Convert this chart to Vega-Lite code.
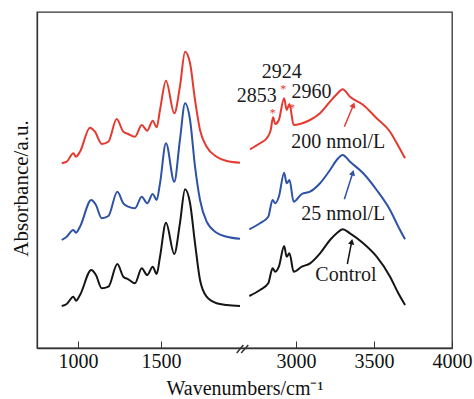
{
  "$schema": "https://vega.github.io/schema/vega-lite/v6.json",
  "width": 415,
  "height": 336,
  "autosize": "none",
  "padding": {"left": 37, "top": 12, "right": 22, "bottom": 51},
  "background": "white",
  "config": {
    "view": {"stroke": "#333", "strokeWidth": 1.3},
    "font": "Liberation Serif",
    "axis": {"labelFont": "Liberation Serif", "titleFont": "Liberation Serif", "labelColor": "#111", "titleColor": "#111", "titleFontWeight": "normal", "domainColor": "#333", "domainWidth": 1.3, "tickColor": "#333", "grid": false}
  },
  "datasets": {
    "spectra": [
      {"s": "200 nmol/L", "seg": "L", "w": 902, "a": 184.7},
      {"s": "200 nmol/L", "seg": "L", "w": 932, "a": 186.3},
      {"s": "200 nmol/L", "seg": "L", "w": 972, "a": 194.7},
      {"s": "200 nmol/L", "seg": "L", "w": 988, "a": 191.3},
      {"s": "200 nmol/L", "seg": "L", "w": 1012, "a": 196.3},
      {"s": "200 nmol/L", "seg": "L", "w": 1072, "a": 220.3},
      {"s": "200 nmol/L", "seg": "L", "w": 1102, "a": 216.3},
      {"s": "200 nmol/L", "seg": "L", "w": 1143, "a": 204},
      {"s": "200 nmol/L", "seg": "L", "w": 1183, "a": 206.3},
      {"s": "200 nmol/L", "seg": "L", "w": 1233, "a": 229},
      {"s": "200 nmol/L", "seg": "L", "w": 1273, "a": 216.3},
      {"s": "200 nmol/L", "seg": "L", "w": 1303, "a": 214},
      {"s": "200 nmol/L", "seg": "L", "w": 1343, "a": 211.3},
      {"s": "200 nmol/L", "seg": "L", "w": 1384, "a": 223},
      {"s": "200 nmol/L", "seg": "L", "w": 1417, "a": 217.3},
      {"s": "200 nmol/L", "seg": "L", "w": 1450, "a": 227.3},
      {"s": "200 nmol/L", "seg": "L", "w": 1474, "a": 220.7},
      {"s": "200 nmol/L", "seg": "L", "w": 1494, "a": 238},
      {"s": "200 nmol/L", "seg": "L", "w": 1530, "a": 267.3},
      {"s": "200 nmol/L", "seg": "L", "w": 1580, "a": 234.7},
      {"s": "200 nmol/L", "seg": "L", "w": 1614, "a": 261.3},
      {"s": "200 nmol/L", "seg": "L", "w": 1645, "a": 296.3},
      {"s": "200 nmol/L", "seg": "L", "w": 1675, "a": 284.7},
      {"s": "200 nmol/L", "seg": "L", "w": 1705, "a": 248},
      {"s": "200 nmol/L", "seg": "L", "w": 1735, "a": 218},
      {"s": "200 nmol/L", "seg": "L", "w": 1775, "a": 201.3},
      {"s": "200 nmol/L", "seg": "L", "w": 1835, "a": 191.3},
      {"s": "200 nmol/L", "seg": "L", "w": 1896, "a": 187},
      {"s": "200 nmol/L", "seg": "L", "w": 1976, "a": 185.3},
      {"s": "25 nmol/L", "seg": "L", "w": 902, "a": 108},
      {"s": "25 nmol/L", "seg": "L", "w": 932, "a": 111.3},
      {"s": "25 nmol/L", "seg": "L", "w": 972, "a": 118},
      {"s": "25 nmol/L", "seg": "L", "w": 988, "a": 115.3},
      {"s": "25 nmol/L", "seg": "L", "w": 1012, "a": 121.3},
      {"s": "25 nmol/L", "seg": "L", "w": 1080, "a": 148},
      {"s": "25 nmol/L", "seg": "L", "w": 1108, "a": 143},
      {"s": "25 nmol/L", "seg": "L", "w": 1143, "a": 129.7},
      {"s": "25 nmol/L", "seg": "L", "w": 1183, "a": 132},
      {"s": "25 nmol/L", "seg": "L", "w": 1237, "a": 156.3},
      {"s": "25 nmol/L", "seg": "L", "w": 1273, "a": 144.7},
      {"s": "25 nmol/L", "seg": "L", "w": 1303, "a": 141.3},
      {"s": "25 nmol/L", "seg": "L", "w": 1343, "a": 139.7},
      {"s": "25 nmol/L", "seg": "L", "w": 1384, "a": 151.3},
      {"s": "25 nmol/L", "seg": "L", "w": 1417, "a": 144.7},
      {"s": "25 nmol/L", "seg": "L", "w": 1450, "a": 154},
      {"s": "25 nmol/L", "seg": "L", "w": 1474, "a": 148},
      {"s": "25 nmol/L", "seg": "L", "w": 1494, "a": 164.7},
      {"s": "25 nmol/L", "seg": "L", "w": 1530, "a": 204.7},
      {"s": "25 nmol/L", "seg": "L", "w": 1580, "a": 166.3},
      {"s": "25 nmol/L", "seg": "L", "w": 1614, "a": 208},
      {"s": "25 nmol/L", "seg": "L", "w": 1645, "a": 244.7},
      {"s": "25 nmol/L", "seg": "L", "w": 1675, "a": 228},
      {"s": "25 nmol/L", "seg": "L", "w": 1705, "a": 181.3},
      {"s": "25 nmol/L", "seg": "L", "w": 1735, "a": 148},
      {"s": "25 nmol/L", "seg": "L", "w": 1775, "a": 126.3},
      {"s": "25 nmol/L", "seg": "L", "w": 1835, "a": 115.3},
      {"s": "25 nmol/L", "seg": "L", "w": 1896, "a": 111.3},
      {"s": "25 nmol/L", "seg": "L", "w": 1976, "a": 109.3},
      {"s": "Control", "seg": "L", "w": 902, "a": 42},
      {"s": "Control", "seg": "L", "w": 932, "a": 44},
      {"s": "Control", "seg": "L", "w": 972, "a": 51.3},
      {"s": "Control", "seg": "L", "w": 988, "a": 47.3},
      {"s": "Control", "seg": "L", "w": 1012, "a": 53},
      {"s": "Control", "seg": "L", "w": 1080, "a": 78},
      {"s": "Control", "seg": "L", "w": 1108, "a": 73},
      {"s": "Control", "seg": "L", "w": 1143, "a": 59.7},
      {"s": "Control", "seg": "L", "w": 1183, "a": 61.3},
      {"s": "Control", "seg": "L", "w": 1237, "a": 84},
      {"s": "Control", "seg": "L", "w": 1273, "a": 71.3},
      {"s": "Control", "seg": "L", "w": 1303, "a": 68.7},
      {"s": "Control", "seg": "L", "w": 1343, "a": 64.7},
      {"s": "Control", "seg": "L", "w": 1384, "a": 79.7},
      {"s": "Control", "seg": "L", "w": 1417, "a": 73},
      {"s": "Control", "seg": "L", "w": 1450, "a": 81.3},
      {"s": "Control", "seg": "L", "w": 1474, "a": 74},
      {"s": "Control", "seg": "L", "w": 1494, "a": 91.3},
      {"s": "Control", "seg": "L", "w": 1530, "a": 125.3},
      {"s": "Control", "seg": "L", "w": 1580, "a": 94},
      {"s": "Control", "seg": "L", "w": 1614, "a": 124.7},
      {"s": "Control", "seg": "L", "w": 1645, "a": 158.7},
      {"s": "Control", "seg": "L", "w": 1675, "a": 144.7},
      {"s": "Control", "seg": "L", "w": 1705, "a": 104.7},
      {"s": "Control", "seg": "L", "w": 1735, "a": 68},
      {"s": "Control", "seg": "L", "w": 1775, "a": 51.3},
      {"s": "Control", "seg": "L", "w": 1835, "a": 44.7},
      {"s": "Control", "seg": "L", "w": 1896, "a": 43},
      {"s": "Control", "seg": "L", "w": 1976, "a": 42},
      {"s": "200 nmol/L", "seg": "R", "w": 2705, "a": 198.7},
      {"s": "200 nmol/L", "seg": "R", "w": 2769, "a": 204.7},
      {"s": "200 nmol/L", "seg": "R", "w": 2812, "a": 209.7},
      {"s": "200 nmol/L", "seg": "R", "w": 2838, "a": 218},
      {"s": "200 nmol/L", "seg": "R", "w": 2853, "a": 230.7},
      {"s": "200 nmol/L", "seg": "R", "w": 2867, "a": 224},
      {"s": "200 nmol/L", "seg": "R", "w": 2890, "a": 228},
      {"s": "200 nmol/L", "seg": "R", "w": 2924, "a": 249.7},
      {"s": "200 nmol/L", "seg": "R", "w": 2940, "a": 238},
      {"s": "200 nmol/L", "seg": "R", "w": 2958, "a": 244},
      {"s": "200 nmol/L", "seg": "R", "w": 2985, "a": 223},
      {"s": "200 nmol/L", "seg": "R", "w": 3026, "a": 224},
      {"s": "200 nmol/L", "seg": "R", "w": 3090, "a": 228},
      {"s": "200 nmol/L", "seg": "R", "w": 3154, "a": 234.7},
      {"s": "200 nmol/L", "seg": "R", "w": 3218, "a": 246.3},
      {"s": "200 nmol/L", "seg": "R", "w": 3261, "a": 253.7},
      {"s": "200 nmol/L", "seg": "R", "w": 3299, "a": 258.7},
      {"s": "200 nmol/L", "seg": "R", "w": 3346, "a": 251.3},
      {"s": "200 nmol/L", "seg": "R", "w": 3431, "a": 243},
      {"s": "200 nmol/L", "seg": "R", "w": 3517, "a": 229.7},
      {"s": "200 nmol/L", "seg": "R", "w": 3603, "a": 216.3},
      {"s": "200 nmol/L", "seg": "R", "w": 3646, "a": 204.7},
      {"s": "200 nmol/L", "seg": "R", "w": 3699, "a": 189.7},
      {"s": "25 nmol/L", "seg": "R", "w": 2701, "a": 118.7},
      {"s": "25 nmol/L", "seg": "R", "w": 2769, "a": 124.7},
      {"s": "25 nmol/L", "seg": "R", "w": 2822, "a": 131.3},
      {"s": "25 nmol/L", "seg": "R", "w": 2850, "a": 148},
      {"s": "25 nmol/L", "seg": "R", "w": 2867, "a": 144.7},
      {"s": "25 nmol/L", "seg": "R", "w": 2890, "a": 151.3},
      {"s": "25 nmol/L", "seg": "R", "w": 2924, "a": 175.3},
      {"s": "25 nmol/L", "seg": "R", "w": 2940, "a": 164.7},
      {"s": "25 nmol/L", "seg": "R", "w": 2958, "a": 168},
      {"s": "25 nmol/L", "seg": "R", "w": 2985, "a": 146.3},
      {"s": "25 nmol/L", "seg": "R", "w": 3037, "a": 154},
      {"s": "25 nmol/L", "seg": "R", "w": 3090, "a": 156.3},
      {"s": "25 nmol/L", "seg": "R", "w": 3154, "a": 164.7},
      {"s": "25 nmol/L", "seg": "R", "w": 3218, "a": 178},
      {"s": "25 nmol/L", "seg": "R", "w": 3261, "a": 188},
      {"s": "25 nmol/L", "seg": "R", "w": 3299, "a": 193},
      {"s": "25 nmol/L", "seg": "R", "w": 3346, "a": 186.3},
      {"s": "25 nmol/L", "seg": "R", "w": 3431, "a": 174.7},
      {"s": "25 nmol/L", "seg": "R", "w": 3517, "a": 158},
      {"s": "25 nmol/L", "seg": "R", "w": 3603, "a": 138},
      {"s": "25 nmol/L", "seg": "R", "w": 3656, "a": 121.3},
      {"s": "25 nmol/L", "seg": "R", "w": 3699, "a": 108.7},
      {"s": "Control", "seg": "R", "w": 2701, "a": 52},
      {"s": "Control", "seg": "R", "w": 2769, "a": 58},
      {"s": "Control", "seg": "R", "w": 2822, "a": 64.7},
      {"s": "Control", "seg": "R", "w": 2850, "a": 79.7},
      {"s": "Control", "seg": "R", "w": 2867, "a": 76.3},
      {"s": "Control", "seg": "R", "w": 2890, "a": 81.3},
      {"s": "Control", "seg": "R", "w": 2924, "a": 102},
      {"s": "Control", "seg": "R", "w": 2940, "a": 91.3},
      {"s": "Control", "seg": "R", "w": 2958, "a": 94.7},
      {"s": "Control", "seg": "R", "w": 2985, "a": 76.3},
      {"s": "Control", "seg": "R", "w": 3037, "a": 81.3},
      {"s": "Control", "seg": "R", "w": 3090, "a": 84.7},
      {"s": "Control", "seg": "R", "w": 3154, "a": 94.7},
      {"s": "Control", "seg": "R", "w": 3218, "a": 108},
      {"s": "Control", "seg": "R", "w": 3261, "a": 114.7},
      {"s": "Control", "seg": "R", "w": 3299, "a": 118.7},
      {"s": "Control", "seg": "R", "w": 3346, "a": 114.7},
      {"s": "Control", "seg": "R", "w": 3431, "a": 104.7},
      {"s": "Control", "seg": "R", "w": 3517, "a": 91.3},
      {"s": "Control", "seg": "R", "w": 3603, "a": 71.3},
      {"s": "Control", "seg": "R", "w": 3656, "a": 54.7},
      {"s": "Control", "seg": "R", "w": 3699, "a": 43}
    ],
    "labels": [
      {"t": "2924", "w": 2908, "a": 276},
      {"t": "2853", "w": 2748, "a": 252},
      {"t": "2960", "w": 3100, "a": 256.5},
      {"t": "200 nmol/L", "w": 3271, "a": 206},
      {"t": "25 nmol/L", "w": 3303, "a": 134.5},
      {"t": "Control", "w": 3320, "a": 73}
    ],
    "stars": [
      {"w": 2919, "a": 262},
      {"w": 2851, "a": 238.5},
      {"w": 2974, "a": 243}
    ],
    "arrows": [
      {"s": "200 nmol/L", "w": 3310, "a": 221.3, "w2": 3368, "a2": 243},
      {"s": "25 nmol/L", "w": 3310, "a": 148.7, "w2": 3364, "a2": 175.3},
      {"s": "Control", "w": 3329, "a": 84, "w2": 3357, "a2": 106.3}
    ],
    "breaks": [
      {"w": 1956, "a": -5, "w2": 1996, "a2": 3},
      {"w": 1983, "a": -5, "w2": 2694, "a2": 3}
    ]
  },
  "layer": [
    {
      "data": {"name": "spectra"},
      "mark": {"type": "line", "strokeWidth": 2, "interpolate": "monotone"},
      "encoding": {
        "x": {
          "field": "w", "type": "quantitative",
          "scale": {"type": "linear", "domain": [753, 2006, 2673, 4000], "range": [0, 208, 208, 415], "nice": false, "zero": false},
          "axis": {"title": "Wavenumbers/cm⁻¹", "values": [1000, 1500, 3000, 3500, 4000], "format": "d", "labelFontSize": 20, "titleFontSize": 20, "tickSize": -7, "labelPadding": 10, "titlePadding": 7, "labelFlush": false, "labelOverlap": false}
        },
        "y": {
          "field": "a", "type": "quantitative",
          "scale": {"domain": [0, 336], "nice": false, "zero": false},
          "axis": {"title": "Absorbance/a.u.", "ticks": false, "labels": false, "titleFontSize": 21, "titlePadding": 6, "titleY": 176}
        },
        "color": {"field": "s", "type": "nominal", "legend": null,
          "scale": {"domain": ["200 nmol/L", "25 nmol/L", "Control"], "range": ["#e53a30", "#2e52a6", "#151515"]}},
        "detail": {"field": "seg", "type": "nominal"}
      }
    },
    {
      "data": {"name": "labels"},
      "mark": {"type": "text", "fontSize": 20, "font": "Liberation Serif", "color": "#1a1a1a", "baseline": "middle", "align": "center"},
      "encoding": {
        "x": {"field": "w", "type": "quantitative"},
        "y": {"field": "a", "type": "quantitative"},
        "text": {"field": "t"}
      }
    },
    {
      "data": {"name": "stars"},
      "mark": {"type": "text", "fontSize": 12, "font": "Liberation Serif", "color": "#e53a30", "baseline": "middle", "align": "center", "dy": 3},
      "encoding": {
        "x": {"field": "w", "type": "quantitative"},
        "y": {"field": "a", "type": "quantitative"},
        "text": {"value": "*"}
      }
    },
    {
      "data": {"name": "arrows"},
      "mark": {"type": "rule", "strokeWidth": 1.5},
      "encoding": {
        "x": {"field": "w", "type": "quantitative"},
        "y": {"field": "a", "type": "quantitative"},
        "x2": {"field": "w2"},
        "y2": {"field": "a2"},
        "color": {"field": "s", "type": "nominal", "legend": null}
      }
    },
    {
      "data": {"name": "arrows"},
      "transform": [{"filter": "datum.s === '200 nmol/L'"}],
      "mark": {"type": "point", "shape": "triangle-up", "filled": true, "opacity": 1, "size": 40, "angle": 22},
      "encoding": {
        "x": {"field": "w2", "type": "quantitative"},
        "y": {"field": "a2", "type": "quantitative"},
        "color": {"field": "s", "type": "nominal", "legend": null}
      }
    },
    {
      "data": {"name": "arrows"},
      "transform": [{"filter": "datum.s === '25 nmol/L'"}],
      "mark": {"type": "point", "shape": "triangle-up", "filled": true, "opacity": 1, "size": 40, "angle": 17},
      "encoding": {
        "x": {"field": "w2", "type": "quantitative"},
        "y": {"field": "a2", "type": "quantitative"},
        "color": {"field": "s", "type": "nominal", "legend": null}
      }
    },
    {
      "data": {"name": "arrows"},
      "transform": [{"filter": "datum.s === 'Control'"}],
      "mark": {"type": "point", "shape": "triangle-up", "filled": true, "opacity": 1, "size": 40, "angle": 11},
      "encoding": {
        "x": {"field": "w2", "type": "quantitative"},
        "y": {"field": "a2", "type": "quantitative"},
        "color": {"field": "s", "type": "nominal", "legend": null}
      }
    },
    {
      "data": {"name": "breaks"},
      "mark": {"type": "rule", "strokeWidth": 1.5, "color": "#333"},
      "encoding": {
        "x": {"field": "w", "type": "quantitative"},
        "y": {"field": "a", "type": "quantitative"},
        "x2": {"field": "w2"},
        "y2": {"field": "a2"}
      }
    }
  ]
}
